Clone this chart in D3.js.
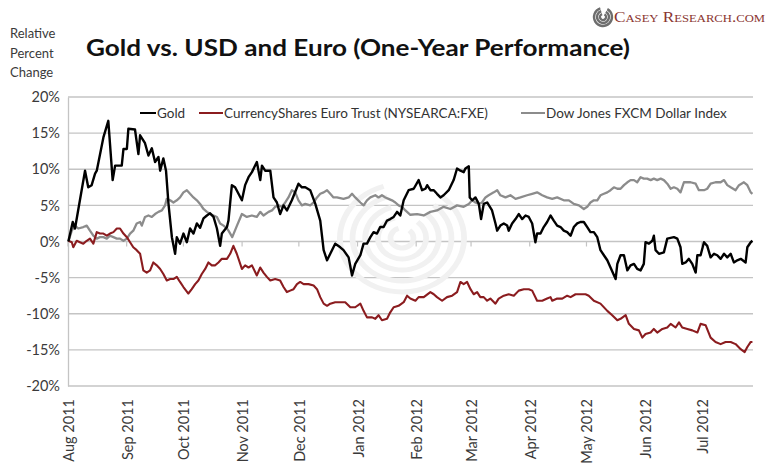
<!DOCTYPE html>
<html>
<head>
<meta charset="utf-8">
<script src="https://cdn.jsdelivr.net/npm/d3@7"></script>
<style>
  body { margin: 0; background: #fff; }
  svg { display: block; font-family: Lato, "Open Sans", sans-serif; }
</style>
</head>
<body>
<div class="svg-container"></div>
<script>
// days since 1 Aug 2011, percent change
var goldSeries = [[0.2,0.0],[2.5,2.7],[3.7,1.8],[9.0,9.8],[10.7,7.5],[12.5,7.8],[14.3,9.4],[15.2,9.8],[18.7,14.4],[21.3,16.7],
  [23.6,8.5],[24.9,10.5],[28.4,10.5],[29.3,12.8],[31.1,12.8],[31.9,15.6],[35.4,15.5],[37.2,12.1],[38.1,14.7],[40.7,13.6],
  [42.5,11.9],[44.3,12.9],[46.0,11.0],[47.8,11.7],[48.7,9.8],[50.4,11.5],[51.8,9.8],[53.1,5.2],[54.9,0.6],[56.6,-1.7],
  [57.5,0.6],[59.2,-0.3],[61.0,1.1],[62.8,-0.1],[64.5,1.8],[66.3,1.1],[68.1,2.5],[69.8,1.9],[71.6,3.2],[73.4,3.6],
  [75.1,3.9],[76.9,3.4],[78.7,1.8],[80.4,-0.6],[81.3,1.1],[84.0,2.0],[84.8,2.9],[86.6,7.8],[88.3,7.5],[91.9,5.7],
  [93.6,7.8],[95.4,8.9],[97.2,9.6],[99.8,11.0],[101.6,8.5],[102.5,10.5],[104.2,9.8],[106.9,9.8],[108.6,6.1],[110.4,5.4],
  [112.1,3.8],[113.9,5.0],[115.7,4.3],[118.3,5.7],[121.8,8.0],[123.6,7.5],[125.4,7.5],[128.0,7.1],[130.7,5.2],[133.3,2.9],
  [135.1,-1.2],[136.9,-2.6],[138.6,-1.7],[141.2,-0.3],[143.9,-0.8],[145.6,-1.2],[148.3,-2.2],[150.1,-4.7],[151.8,-3.1],[154.5,-1.9],
  [156.2,-0.3],[158.0,-0.3],[159.8,0.6],[161.5,1.3],[163.3,1.1],[165.0,2.0],[166.8,2.0],[168.6,2.9],[170.3,3.1],[172.1,3.4],
  [173.9,4.1],[175.6,3.6],[177.4,5.7],[180.0,7.1],[182.7,7.3],[185.3,8.5],[187.1,7.1],[188.9,7.3],[189.8,7.8],[191.5,7.1],
  [193.3,7.1],[195.0,6.6],[196.8,6.1],[198.5,6.4],[201.2,7.1],[203.8,8.5],[205.6,10.1],[207.4,9.8],[209.1,9.6],[210.0,10.1],
  [211.8,10.4],[212.3,6.1],[213.6,5.7],[215.3,6.1],[217.1,5.2],[218.3,3.1],[219.7,5.2],[221.5,5.4],[224.1,4.3],[225.9,2.5],
  [226.8,1.5],[228.5,2.2],[230.3,2.5],[232.1,2.2],[232.9,1.5],[234.7,2.5],[236.5,3.1],[238.2,3.8],[240.0,3.1],[241.8,3.6],
  [243.5,3.4],[245.3,2.5],[247.0,-0.1],[247.9,1.1],[249.7,1.1],[251.4,2.0],[253.2,2.7],[255.0,3.6],[256.7,2.9],[258.5,2.2],
  [260.3,2.0],[262.0,1.5],[263.8,1.3],[265.6,0.8],[267.3,2.0],[269.1,2.5],[270.8,2.7],[272.6,2.7],[274.4,2.0],[276.1,1.3],
  [277.9,1.3],[279.7,0.6],[281.4,-1.2],[283.2,-1.9],[285.0,-2.6],[286.7,-3.6],[289.4,-5.2],[290.3,-3.1],[292.0,-1.9],[293.8,-1.9],
  [295.6,-4.0],[297.3,-3.3],[299.1,-3.1],[300.8,-3.8],[302.6,-4.0],[304.3,-3.1],[305.2,-0.1],[307.0,-0.3],[308.8,0.1],[309.6,0.8],
  [310.5,-1.2],[312.3,-1.7],[314.9,-1.5],[316.7,0.4],[320.2,0.6],[322.0,0.4],[323.7,-0.8],[324.6,-3.1],[326.4,-2.9],[328.1,-2.4],
  [329.9,-3.1],[331.7,-4.3],[332.6,-1.9],[334.3,-1.9],[336.1,-0.1],[337.8,-0.6],[339.6,-2.2],[341.4,-1.7],[343.1,-1.9],[344.9,-2.4],
  [346.7,-1.7],[348.4,-2.2],[350.2,-1.7],[351.9,-2.9],[353.7,-2.6],[355.5,-2.4],[358.1,-2.9],[359.0,-0.8],[360.8,-0.1],[361.7,0.1]];

var euroSeries = [[0.2,0.1],[2.0,-0.1],[2.8,-0.8],[4.6,0.1],[6.3,-0.1],[8.1,-0.3],[9.9,0.1],[11.6,0.4],[13.4,-0.3],[15.2,1.3],
  [16.9,1.1],[18.7,1.1],[20.5,0.8],[22.2,1.1],[24.0,1.3],[25.8,1.8],[27.5,1.8],[29.3,1.1],[31.1,0.6],[32.8,-0.1],
  [34.5,-0.8],[36.3,-1.2],[38.1,-1.7],[39.0,-2.9],[39.8,-4.0],[41.6,-4.3],[43.4,-4.0],[45.1,-2.9],[46.9,-3.3],[48.7,-3.8],
  [50.4,-4.5],[52.2,-5.4],[54.0,-5.2],[55.7,-5.2],[57.5,-4.9],[59.2,-5.6],[61.0,-6.3],[63.6,-7.2],[65.4,-6.6],[67.2,-5.9],
  [68.9,-5.4],[70.7,-4.5],[72.5,-3.8],[74.2,-2.9],[76.0,-3.3],[77.8,-3.3],[79.5,-2.9],[81.3,-2.4],[84.0,-2.4],[85.7,-1.7],
  [87.4,-0.6],[89.2,-1.7],[91.9,-3.8],[93.6,-3.3],[95.4,-3.6],[97.2,-3.3],[99.8,-4.7],[101.6,-3.6],[103.3,-4.3],[105.1,-4.9],
  [106.9,-5.4],[109.5,-5.2],[112.1,-5.4],[113.9,-6.3],[115.7,-7.0],[117.4,-6.8],[119.2,-6.6],[121.0,-5.9],[122.7,-5.6],[124.5,-5.9],
  [127.1,-5.9],[129.8,-6.1],[131.6,-6.6],[133.3,-7.7],[135.1,-8.6],[136.9,-8.9],[138.6,-8.6],[141.2,-8.4],[143.9,-8.4],[146.5,-8.4],
  [149.2,-9.1],[151.8,-9.1],[154.5,-8.6],[156.2,-9.6],[158.0,-10.5],[160.7,-10.5],[162.4,-10.7],[164.1,-10.2],[165.9,-10.9],[168.6,-10.7],
  [170.3,-9.8],[172.1,-9.1],[174.7,-8.9],[177.4,-8.4],[179.2,-7.5],[180.9,-7.9],[183.6,-8.2],[185.3,-7.7],[188.0,-7.7],[191.5,-7.0],
  [193.3,-7.3],[195.0,-7.7],[197.7,-8.2],[200.3,-7.7],[203.0,-7.5],[205.6,-7.0],[207.4,-5.6],[209.1,-5.9],[210.9,-5.6],[212.7,-6.6],
  [214.4,-7.3],[216.2,-7.0],[217.9,-7.7],[219.7,-7.7],[221.5,-8.2],[223.2,-7.9],[225.9,-8.6],[227.6,-7.9],[230.3,-7.5],[232.9,-7.3],
  [235.6,-7.5],[238.2,-6.8],[240.9,-6.6],[243.5,-6.6],[245.3,-6.8],[247.9,-8.2],[250.6,-8.2],[253.2,-7.9],[255.0,-7.7],[255.9,-8.2],
  [258.5,-7.9],[261.2,-7.9],[263.8,-7.5],[265.6,-7.7],[268.2,-7.3],[270.8,-7.3],[273.5,-7.3],[275.2,-7.5],[277.9,-8.2],[281.4,-8.6],
  [285.0,-9.6],[287.6,-10.2],[290.3,-10.9],[292.0,-10.7],[294.7,-10.2],[296.4,-11.4],[299.1,-12.1],[301.7,-12.3],[303.5,-13.3],[305.2,-12.8],
  [307.9,-12.6],[309.6,-12.1],[311.4,-12.6],[314.1,-12.1],[316.7,-11.9],[318.5,-11.4],[321.1,-11.9],[322.9,-11.2],[324.6,-11.9],[327.3,-12.1],
  [329.9,-12.3],[332.6,-12.6],[334.3,-11.4],[337.0,-11.6],[339.6,-13.3],[342.2,-13.9],[344.9,-14.2],[347.5,-13.9],[350.2,-13.9],[352.8,-14.2],
  [355.5,-14.9],[357.6,-15.3],[359.0,-14.6],[360.8,-13.9],[361.7,-13.9]];

var dollarSeries = [[0.2,0.0],[2.0,1.5],[3.7,2.2],[5.4,1.8],[8.1,2.0],[9.9,2.2],[11.6,1.5],[13.4,0.8],[15.2,0.4],[16.9,0.6],
  [18.7,0.6],[20.5,0.4],[22.2,0.8],[24.0,0.6],[25.8,0.4],[27.5,0.4],[29.3,0.1],[31.1,0.4],[32.8,1.1],[34.5,1.5],
  [36.3,2.5],[38.1,2.7],[39.0,2.2],[40.7,3.4],[42.5,3.6],[44.3,3.4],[46.0,3.8],[47.8,4.1],[49.6,4.3],[51.3,5.0],
  [52.2,5.9],[54.0,5.7],[55.7,5.4],[57.5,5.7],[59.2,6.1],[61.0,6.8],[62.8,7.1],[64.5,6.6],[66.3,6.1],[68.1,5.7],
  [69.8,5.2],[71.6,4.5],[73.4,4.1],[75.1,3.8],[76.9,3.6],[78.7,3.4],[80.4,2.5],[82.2,2.2],[84.0,1.8],[84.8,1.5],
  [86.8,0.6],[89.3,2.2],[91.9,3.8],[94.5,3.4],[97.2,3.6],[99.8,3.4],[101.6,4.1],[103.3,3.6],[106.0,4.1],[107.8,4.3],
  [109.5,4.8],[111.3,5.0],[113.0,4.8],[114.8,5.4],[116.5,6.1],[118.3,7.1],[120.1,6.8],[121.8,5.7],[123.6,5.0],[125.4,5.2],
  [128.0,5.0],[129.8,5.4],[131.6,6.1],[133.3,6.6],[135.1,6.8],[136.9,7.1],[138.6,6.6],[140.3,6.1],[142.1,6.1],[145.6,5.9],
  [148.3,6.1],[150.1,6.6],[151.8,6.1],[154.5,5.4],[156.2,5.0],[158.0,5.7],[159.8,6.1],[162.4,6.4],[164.1,6.1],[165.9,6.4],
  [167.7,6.1],[169.4,5.9],[171.2,5.7],[173.0,5.4],[174.7,5.0],[176.5,4.8],[178.3,4.3],[180.9,3.7],[184.5,3.8],[188.0,3.6],
  [191.5,4.1],[195.0,4.3],[198.5,4.8],[202.1,4.5],[205.6,5.0],[209.1,4.8],[211.8,5.2],[213.6,5.7],[215.3,5.4],[217.1,5.2],
  [218.8,5.4],[220.6,6.1],[222.3,6.4],[225.0,6.8],[226.8,7.1],[228.5,6.4],[231.2,6.1],[233.8,6.4],[236.5,5.9],[239.1,6.1],
  [242.6,6.4],[245.3,6.6],[247.9,6.8],[250.6,6.4],[253.2,6.1],[255.9,5.9],[258.5,6.1],[262.0,5.7],[264.7,5.7],[267.3,5.2],
  [270.0,5.0],[272.6,4.5],[274.4,4.8],[276.1,5.4],[277.9,5.7],[279.7,5.7],[281.4,6.4],[283.2,6.6],[285.0,6.8],[286.7,7.1],
  [288.5,7.5],[290.3,7.3],[292.0,7.3],[293.8,7.8],[295.6,8.2],[297.3,8.5],[299.1,8.5],[300.8,8.2],[302.6,8.9],[304.3,8.7],
  [306.1,8.7],[307.9,8.5],[309.6,8.7],[311.4,8.5],[313.2,8.7],[314.9,8.5],[316.7,8.0],[318.5,7.3],[320.2,7.5],[322.0,7.3],
  [323.7,6.8],[325.5,8.2],[329.0,8.2],[331.7,8.0],[333.4,7.1],[336.1,7.1],[337.8,7.3],[339.6,8.0],[342.2,8.2],[344.9,8.2],
  [346.7,8.5],[348.4,7.8],[350.2,7.5],[352.8,7.1],[354.6,7.8],[357.2,8.2],[359.0,7.8],[360.8,6.8],[361.7,6.6]];

var seriesNames = ['Gold', 'CurrencyShares Euro Trust (NYSEARCA:FXE)', 'Dow Jones FXCM Dollar Index'];
var seriesColors = ['#000000', '#8b1c1f', '#8c8c8c'];
var monthLabels = ['Aug 2011','Sep 2011','Oct 2011','Nov 2011','Dec 2011','Jan 2012','Feb 2012','Mar 2012','Apr 2012','May 2012','Jun 2012','Jul 2012'];
var yTicks = [-20, -15, -10, -5, 0, 5, 10, 15, 20];

let goldChart = {
  mainSelect: '.svg-container',
  width: 769,
  height: 470,
  start: new Date(2011, 7, 1),
  plot: { left: 68, right: 753, top: 97, bottom: 386 },
  grid: '#c4c4c4',
  text: '#3a3a3a',
  makeBoard(){
    d3.select(goldChart.mainSelect).selectAll('svg').remove();
    var svg = d3.select(goldChart.mainSelect).append('svg')
      .attr('width', goldChart.width)
      .attr('height', goldChart.height);
    goldChart.svg = svg;
    var p = goldChart.plot;

    var x = d3.scaleTime()
      .domain([goldChart.start, d3.timeDay.offset(goldChart.start, 362)])
      .range([p.left, p.right]);
    var y = d3.scaleLinear().domain([-20, 20]).range([p.bottom, p.top]);
    goldChart.x = x;
    goldChart.y = y;

    // header texts
    ['Relative', 'Percent', 'Change'].forEach(function(t, i){
      svg.append('text').attr('x', 10).attr('y', 38 + i * 19.5)
        .attr('font-size', 13).attr('fill', goldChart.text).text(t);
    });
    svg.append('text').attr('x', 86).attr('y', 56)
      .attr('font-size', 22).attr('font-weight', 'bold').attr('fill', '#111')
      .attr('textLength', 544).attr('lengthAdjust', 'spacingAndGlyphs')
      .text('Gold vs. USD and Euro (One-Year Performance)');
    goldChart.makeLogo();

    // gridlines
    svg.append('g').selectAll('line').data(yTicks).join('line')
      .attr('x1', p.left).attr('x2', p.right)
      .attr('y1', function(d){ return y(d); }).attr('y2', function(d){ return y(d); })
      .attr('stroke', goldChart.grid).attr('stroke-width', 1.3);

    goldChart.makeWatermark();

    // y axis
    var yAxis = svg.append('g').attr('transform', 'translate(' + p.left + ',0)')
      .call(d3.axisLeft(y).tickValues(yTicks).tickSize(0).tickPadding(8).tickFormat(function(d){ return d + '%'; }));
    yAxis.select('.domain').attr('stroke', goldChart.grid).attr('stroke-width', 1.3);
    yAxis.selectAll('text').attr('font-size', 14.5).attr('fill', goldChart.text).attr('font-family', 'Lato, sans-serif');

    // month ticks on the zero line
    var months = d3.timeMonth.range(goldChart.start, x.domain()[1]);
    svg.append('g').selectAll('line').data(months).join('line')
      .attr('x1', function(d){ return x(d); }).attr('x2', function(d){ return x(d); })
      .attr('y1', y(0)).attr('y2', y(0) + 5)
      .attr('stroke', goldChart.grid).attr('stroke-width', 1.2);

    // month labels
    svg.append('g').selectAll('text').data(months).join('text')
      .attr('transform', function(d){ return 'translate(' + (x(d) + 6) + ',399) rotate(-90)'; })
      .attr('text-anchor', 'end')
      .attr('font-size', 14.5).attr('fill', goldChart.text)
      .text(function(d, i){ return monthLabels[i]; });

    // lines
    var line = d3.line()
      .x(function(d){ return x(new Date(goldChart.start.getTime() + d[0] * 864e5)); })
      .y(function(d){ return y(d[1]); });
    var all = [dollarSeries, euroSeries, goldSeries];
    var cols = [seriesColors[2], seriesColors[1], seriesColors[0]];
    var widths = [2.3, 2.1, 2.4];
    svg.append('g').selectAll('path').data(all).join('path')
      .attr('d', line)
      .attr('fill', 'none')
      .attr('stroke', function(d, i){ return cols[i]; })
      .attr('stroke-width', function(d, i){ return widths[i]; })
      .attr('stroke-linejoin', 'round');

    goldChart.makeLegend();
  },
  makeLegend(){
    var lg = goldChart.svg.append('g');
    var starts = [140, 199, 521];
    var lens = [16, 24, 24];
    lg.append('rect').attr('x', 136).attr('y', 103).attr('width', 612).attr('height', 21).attr('fill', '#fff');
    seriesNames.forEach(function(name, i){
      lg.append('line').attr('x1', starts[i]).attr('x2', starts[i] + lens[i])
        .attr('y1', 113).attr('y2', 113)
        .attr('stroke', seriesColors[i]).attr('stroke-width', 2);
      lg.append('text').attr('x', starts[i] + lens[i] + 1).attr('y', 118)
        .attr('font-size', 13.5).attr('fill', '#333').text(name);
    });
  },
  makeWatermark(){
    // faint logo swirl behind the lines
    var wm = goldChart.svg.append('g').attr('transform', 'translate(402,238) scale(1.15,1)');
    var radii = [10, 21, 32, 43, 54];
    radii.forEach(function(r){
      wm.append('path')
        .attr('d', d3.arc()({ innerRadius: r - 2.5, outerRadius: r + 2.5, startAngle: 0.7, endAngle: 2 * Math.PI - 0.3 }))
        .attr('fill', '#f1f1f1');
    });
  },
  makeLogo(){
    var lg = goldChart.svg.append('g');
    var icon = lg.append('g').attr('transform', 'translate(603,17)');
    [3, 6, 9].forEach(function(r){
      icon.append('path')
        .attr('d', d3.arc()({ innerRadius: r - 1.2, outerRadius: r + 1.2, startAngle: 0.5, endAngle: 2 * Math.PI - 0.3 }))
        .attr('fill', '#6e6e6e');
    });
    lg.append('text').attr('x', 614).attr('y', 22)
      .attr('font-family', '"Liberation Serif", "DejaVu Serif", serif')
      .attr('font-size', 15).attr('font-variant', 'small-caps')
      .attr('fill', '#8a3530')
      .attr('textLength', 151).attr('lengthAdjust', 'spacingAndGlyphs')
      .text('Casey Research.com');
  }
};

document.addEventListener('DOMContentLoaded', function(event) {
  goldChart.makeBoard();
});
</script>
</body>
</html>
